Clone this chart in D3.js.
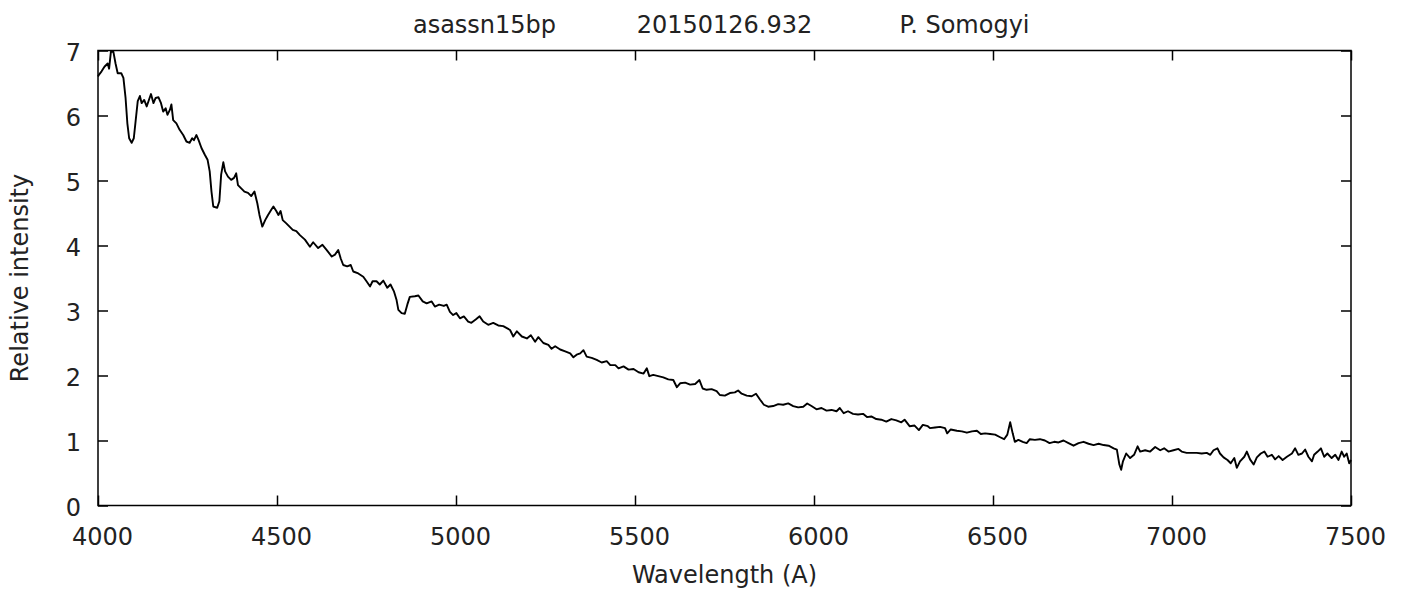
<!DOCTYPE html>
<html>
<head>
<meta charset="utf-8">
<script src="https://cdnjs.cloudflare.com/ajax/libs/d3/7.8.5/d3.min.js"></script>
<style>
  body { margin: 0; background: #fff; }
  text { font-family: Verdana, "DejaVu Sans", sans-serif; font-size: 24px; fill: #222; }
</style>
</head>
<body>
<div id="spectrum"></div>
<script>
// spectrum (wavelength in A, relative intensity)
var wavelength = [
  4000, 4003, 4010, 4018, 4027, 4031, 4036, 4043, 4049, 4055, 4065, 4071, 4077, 4082, 4087, 4094,
  4100, 4105, 4111, 4117, 4122, 4129, 4136, 4141, 4148, 4155, 4161, 4169, 4176, 4182, 4189, 4194,
  4201, 4205, 4210, 4219, 4228, 4238, 4247, 4256, 4263, 4268, 4275, 4281, 4289, 4298, 4306, 4312,
  4317, 4322, 4333, 4339, 4344, 4350, 4355, 4363, 4372, 4380, 4386, 4391, 4400, 4409, 4419, 4428,
  4437, 4445, 4451, 4459, 4467, 4475, 4484, 4490, 4498, 4504, 4510, 4516, 4526, 4535, 4544, 4554,
  4564, 4578, 4592, 4601, 4615, 4627, 4639, 4653, 4662, 4671, 4678, 4685, 4696, 4706, 4713, 4727,
  4741, 4750, 4760, 4767, 4778, 4787, 4797, 4808, 4817, 4827, 4834, 4839, 4848, 4857, 4864, 4871,
  4885, 4895, 4907, 4918, 4932, 4941, 4953, 4966, 4974, 4983, 4992, 5001, 5011, 5022, 5034, 5043,
  5055, 5066, 5076, 5090, 5104, 5118, 5132,
  5151, 5160, 5170, 5184, 5198, 5209, 5221, 5230, 5244, 5258, 5267, 5277, 5291, 5305, 5319, 5328,
  5337, 5347, 5356, 5365, 5379, 5393, 5407, 5421, 5431, 5445, 5454, 5468, 5482, 5496, 5510, 5524,
  5533, 5540, 5551, 5565, 5579, 5593, 5607, 5617, 5626, 5640, 5654, 5668, 5680, 5689, 5700, 5714,
  5728,
  5737, 5751, 5765, 5779, 5788, 5798, 5812, 5826, 5838, 5849, 5860, 5872, 5886, 5900, 5914, 5928,
  5942, 5956, 5970, 5981, 5993, 6007, 6021, 6035, 6049, 6063, 6072, 6083, 6095, 6109, 6123, 6137,
  6148, 6160, 6174, 6188, 6202, 6216, 6230, 6244, 6253, 6267, 6281, 6293, 6304, 6318,
  6324, 6338, 6352, 6366, 6372, 6382, 6399, 6413, 6427, 6441, 6455, 6466, 6478, 6492, 6506, 6520,
  6531, 6540, 6548, 6555, 6561, 6571, 6583, 6594, 6603, 6617, 6631, 6645, 6658, 6671, 6683, 6697,
  6711, 6725, 6739, 6753, 6767, 6781, 6795, 6809, 6823, 6837, 6846, 6853, 6858, 6863, 6872, 6883,
  6894, 6904,
  6911, 6925, 6939, 6953, 6967, 6978, 6990, 7004, 7018, 7027, 7041, 7055, 7069, 7083, 7097, 7107,
  7116, 7127, 7134, 7144, 7155, 7164, 7174, 7181, 7190, 7202, 7209, 7218, 7228, 7237, 7248, 7258,
  7267, 7279, 7288, 7298, 7309, 7321, 7335, 7344, 7353, 7363, 7372, 7381, 7391, 7397, 7407, 7416,
  7425, 7434, 7446, 7456, 7465, 7474, 7481, 7488, 7495, 7500
];
var intensity = [
  6.60, 6.63, 6.68, 6.75, 6.80, 6.72, 6.98, 6.98, 6.80, 6.65, 6.65, 6.58, 6.27, 5.88, 5.65, 5.58,
  5.65, 5.91, 6.22, 6.30, 6.19, 6.24, 6.14, 6.22, 6.33, 6.19, 6.27, 6.28, 6.19, 6.06, 6.11, 6.01,
  6.09, 6.17, 5.93, 5.88, 5.78, 5.70, 5.60, 5.58, 5.65, 5.62, 5.70, 5.62, 5.50, 5.40, 5.32, 5.14,
  4.83, 4.60, 4.58, 4.68, 5.09, 5.28, 5.14, 5.06, 5.01, 5.04, 5.11, 4.93, 4.88, 4.83, 4.81, 4.76,
  4.83, 4.65, 4.47, 4.29, 4.39, 4.47, 4.55, 4.60, 4.53, 4.47, 4.53, 4.39, 4.34, 4.29, 4.24, 4.22,
  4.16, 4.09, 3.98, 4.05, 3.96, 4.01, 3.93, 3.83, 3.86, 3.93, 3.80, 3.70, 3.68, 3.70, 3.60, 3.57,
  3.52, 3.45, 3.37, 3.45, 3.45, 3.40, 3.46, 3.35, 3.40, 3.29, 3.16, 3.01, 2.96, 2.95, 3.09, 3.21,
  3.22, 3.23, 3.14, 3.11, 3.14, 3.06, 3.09, 3.07, 3.09, 2.98, 2.93, 2.96, 2.88, 2.91, 2.83, 2.81,
  2.86, 2.91, 2.83, 2.78, 2.81, 2.77, 2.76,
  2.70, 2.60, 2.68, 2.60, 2.57, 2.62, 2.52, 2.59, 2.50, 2.47, 2.41, 2.45, 2.40, 2.37, 2.34, 2.28,
  2.32, 2.34, 2.39, 2.29, 2.27, 2.24, 2.20, 2.22, 2.16, 2.16, 2.11, 2.14, 2.09, 2.10, 2.05, 2.03,
  2.11, 1.99, 2.01, 1.99, 1.97, 1.94, 1.93, 1.82, 1.88, 1.89, 1.86, 1.87, 1.93, 1.80, 1.78, 1.79,
  1.76,
  1.70, 1.69, 1.73, 1.74, 1.77, 1.72, 1.69, 1.68, 1.72, 1.63, 1.55, 1.52, 1.53, 1.56, 1.55, 1.57,
  1.53, 1.51, 1.52, 1.57, 1.53, 1.48, 1.50, 1.46, 1.47, 1.45, 1.50, 1.42, 1.45, 1.41, 1.40, 1.41,
  1.36, 1.37, 1.33, 1.32, 1.29, 1.33, 1.31, 1.28, 1.32, 1.22, 1.23, 1.16, 1.24, 1.22,
  1.19, 1.20, 1.21, 1.19, 1.11, 1.17, 1.15, 1.14, 1.12, 1.14, 1.15, 1.10, 1.11, 1.10, 1.09, 1.05,
  1.02, 1.09, 1.28, 1.11, 0.98, 1.01, 0.98, 0.96, 1.02, 1.01, 1.02, 1.00, 0.96, 0.98, 0.97, 1.00,
  0.96, 0.92, 0.96, 0.98, 0.95, 0.93, 0.95, 0.93, 0.92, 0.88, 0.86, 0.63, 0.55, 0.68, 0.80, 0.73,
  0.78, 0.91,
  0.83, 0.85, 0.83, 0.90, 0.85, 0.88, 0.83, 0.85, 0.87, 0.83, 0.81, 0.81, 0.81, 0.80, 0.81, 0.78,
  0.85, 0.88, 0.80, 0.74, 0.70, 0.65, 0.73, 0.58, 0.68, 0.75, 0.83, 0.71, 0.63, 0.74, 0.80, 0.83,
  0.75, 0.78, 0.71, 0.76, 0.70, 0.75, 0.80, 0.88, 0.78, 0.80, 0.86, 0.75, 0.68, 0.78, 0.83, 0.88,
  0.75, 0.80, 0.73, 0.78, 0.70, 0.83, 0.75, 0.80, 0.65, 0.70
];
var xTicks = [4000, 4500, 5000, 5500, 6000, 6500, 7000, 7500];
var yTicks = [0, 1, 2, 3, 4, 5, 6, 7];
var titleParts = ["asassn15bp", "20150126.932", "P. Somogyi"];

var svgWidth = 1402;
var svgHeight = 592;

var margin = {
  top: 50.5,
  right: 51,
  bottom: 86.5,
  left: 98
};

var width = svgWidth - margin.left - margin.right;
var height = svgHeight - margin.top - margin.bottom;

var spectrum = wavelength.map((w, i) => ({ w: w, v: intensity[i] }));

var svg = d3.select("#spectrum")
  .append("svg")
  .attr("width", svgWidth)
  .attr("height", svgHeight);

var chartGroup = svg.append("g")
  .attr("transform", `translate(${margin.left}, ${margin.top})`);

var xScale = d3.scaleLinear()
  .domain([4000, 7500])
  .range([0, width]);

var yScale = d3.scaleLinear()
  .domain([0, 7])
  .range([height, 0]);

// gnuplot style: ticks pointing inward, mirrored on top and right
var bottomAxis = d3.axisBottom(xScale).tickValues(xTicks).tickSize(-10).tickPadding(22.5).tickFormat(d3.format("d"));
var topAxis = d3.axisTop(xScale).tickValues(xTicks).tickSize(-10).tickFormat("");
var leftAxis = d3.axisLeft(yScale).tickValues(yTicks).tickSize(-10).tickPadding(17).tickFormat(d3.format("d"));
var rightAxis = d3.axisRight(yScale).tickValues(yTicks).tickSize(-10).tickFormat("");

var gx = chartGroup.append("g")
  .attr("transform", `translate(0,${height})`)
  .call(bottomAxis);
gx.selectAll("text").attr("dx", 4);

chartGroup.append("g").call(topAxis);

var gy = chartGroup.append("g").call(leftAxis);
gy.selectAll("text").attr("dy", "0.42em");

chartGroup.append("g")
  .attr("transform", `translate(${width},0)`)
  .call(rightAxis);

chartGroup.selectAll(".domain").remove();
chartGroup.selectAll(".tick line")
  .attr("stroke", "#000")
  .attr("stroke-width", 1.5);
chartGroup.selectAll(".tick text")
  .style("font-size", "24px")
  .style("font-family", "Verdana, 'DejaVu Sans', sans-serif")
  .attr("fill", "#222");

// frame
chartGroup.append("rect")
  .attr("width", width)
  .attr("height", height)
  .attr("fill", "none")
  .attr("stroke", "#000")
  .attr("stroke-width", 1.5);

var spectrumLine = d3.line()
  .x(d => xScale(d.w))
  .y(d => yScale(d.v));

chartGroup.append("path")
  .datum(spectrum)
  .attr("d", spectrumLine)
  .attr("fill", "none")
  .attr("stroke", "#000")
  .attr("stroke-width", 1.9)
  .attr("stroke-linejoin", "round");

// title: three centred pieces
svg.selectAll(".title")
  .data(titleParts)
  .enter()
  .append("text")
  .attr("class", "title")
  .attr("x", (d, i) => margin.left + width / 2 + (i - 1) * 240)
  .attr("y", 33)
  .attr("text-anchor", "middle")
  .text(d => d);

// axis labels
svg.append("text")
  .attr("transform", `translate(28, ${margin.top + height / 2}) rotate(-90)`)
  .attr("text-anchor", "middle")
  .text("Relative intensity");

svg.append("text")
  .attr("x", margin.left + width / 2)
  .attr("y", 583)
  .attr("text-anchor", "middle")
  .text("Wavelength (A)");
</script>
</body>
</html>
